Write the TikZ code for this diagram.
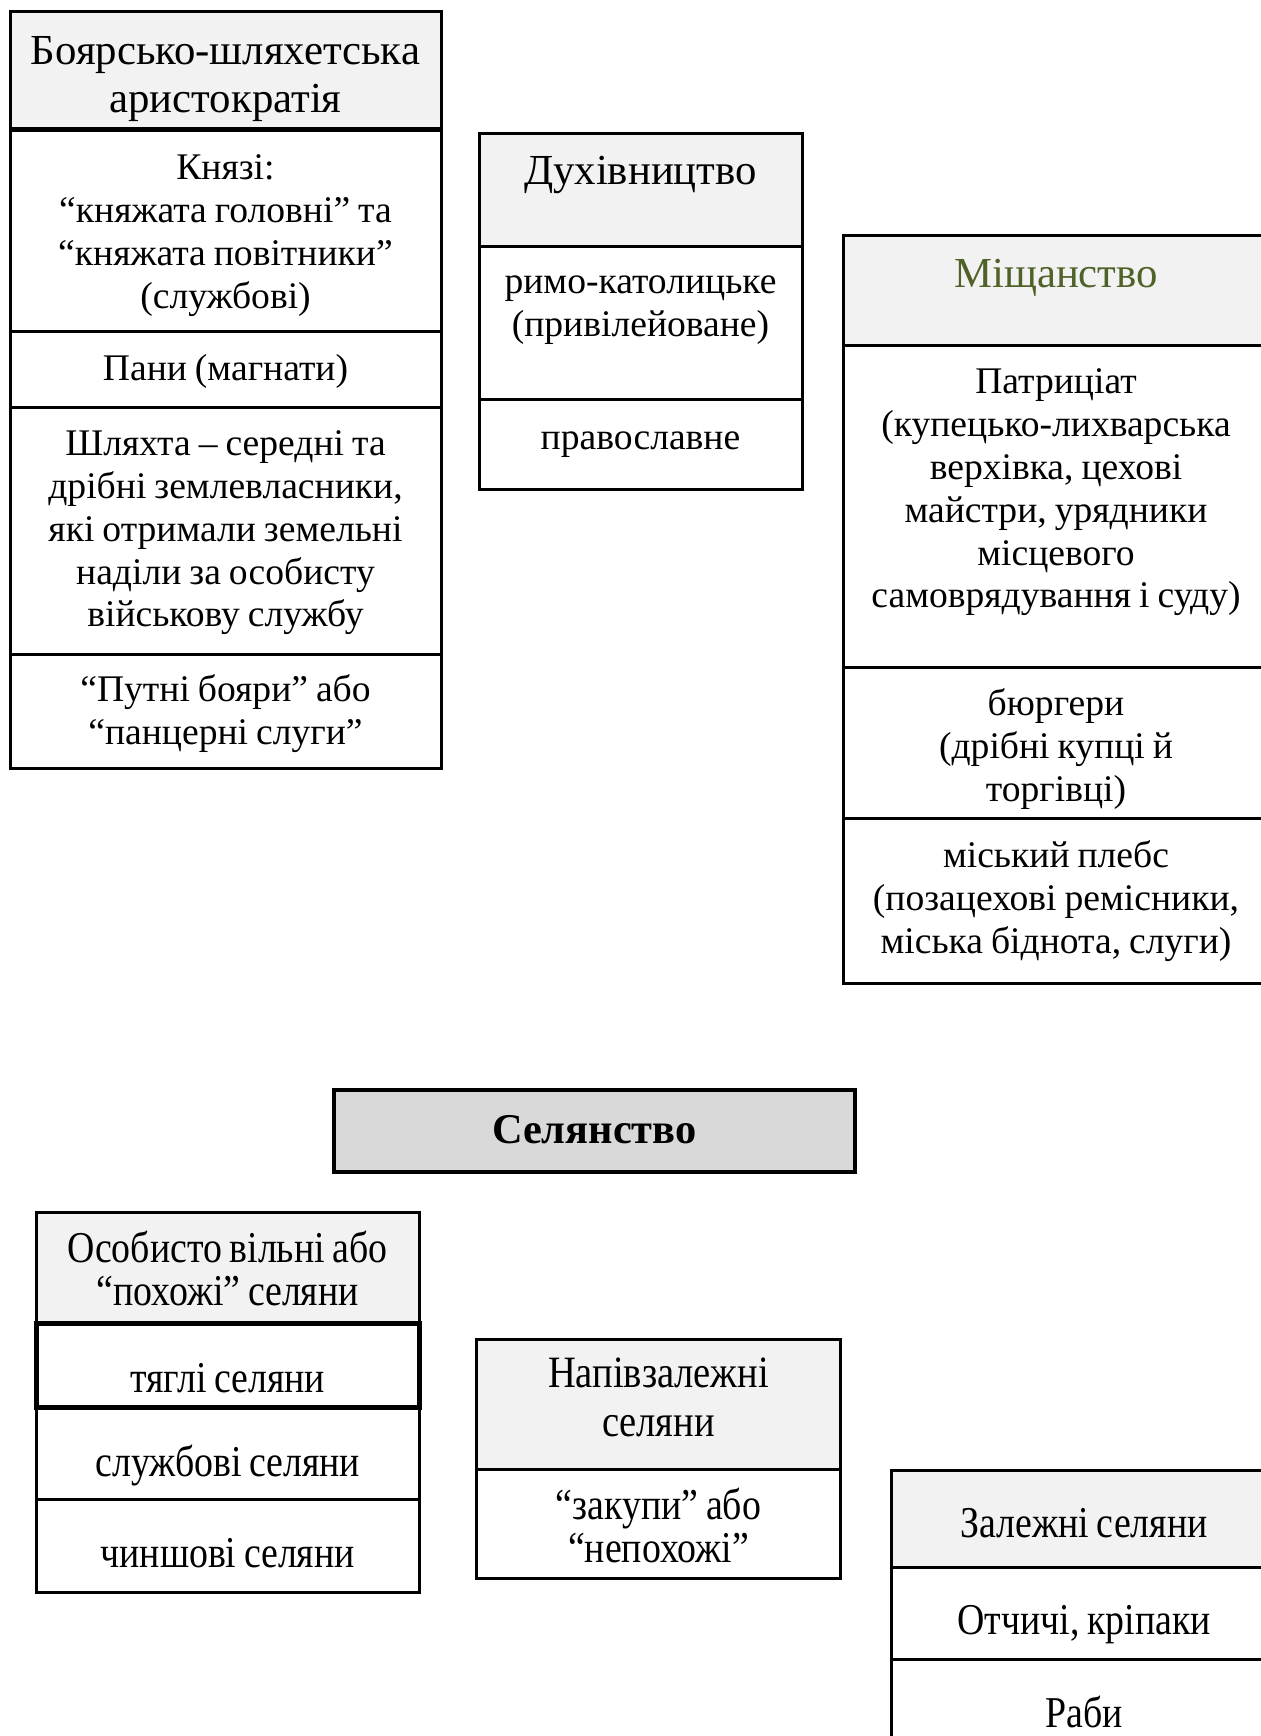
\documentclass[tikz,border=0pt]{standalone}
\usepackage{fontspec}
\setmainfont{Liberation Serif}[WordSpace=0.85]
\newfontfamily\narrowserif{Liberation Serif}[FakeStretch=0.86, WordSpace=0.8]
\usetikzlibrary{positioning}
\definecolor{hdrgray}{HTML}{F2F2F2}
\definecolor{selgray}{HTML}{D9D9D9}
\definecolor{olivetext}{HTML}{4F6228}

\begin{document}
\begin{tikzpicture}[
        cell/.style={rectangle, draw=black, line width=1.5pt, outer sep=0pt, inner sep=0pt},
        hdr/.style={cell, fill=hdrgray},
        thickline/.style={line width=2.5pt},
        txt/.style={inner sep=0pt, align=center, yshift=-2.8pt, font=\fontsize{18.8}{21.4}\selectfont,
            execute at begin node=\strut, execute at end node=\strut},
        hdrtxt/.style={txt, font=\fontsize{21.4}{23.8}\selectfont},
        lowtxt/.style={txt, font=\narrowserif\fontsize{22}{21.6}\selectfont},
        colA/.style={minimum width=215.5pt},
        colB/.style={minimum width=161.5pt},
        colC/.style={minimum width=213pt},
        colE/.style={minimum width=191.7pt},
        colF/.style={minimum width=181.9pt},
        colG/.style={minimum width=193pt}
    ]
    \useasboundingbox (0,0) rectangle (630.5pt,-868pt);

    % --- Боярсько-шляхетська аристократія ---
    \node[hdr, colA, minimum height=59.1pt, anchor=north west] (bojar) at (5pt,-5.7pt) {};
    \node[cell, colA, minimum height=100.7pt, below=0pt of bojar] (knjazi) {};
    \node[cell, colA, minimum height=38.2pt, below=0pt of knjazi] (pany) {};
    \node[cell, colA, minimum height=123.5pt, below=0pt of pany] (shljakhta) {};
    \node[cell, colA, minimum height=57pt, below=0pt of shljakhta] (putni) {};
    \draw[thickline] (bojar.south west) -- (bojar.south east);

    \node[hdrtxt, yshift=-2.9pt] (bojar-t) at (bojar) {Боярсько-шляхетська\\аристократія};
    \node[txt, yshift=-1.1pt] (knjazi-t) at (knjazi) {Князі:\\“княжата головні” та\\“княжата повітники”\\(службові)};
    \node[txt, yshift=1.4pt] (pany-t) at (pany) {Пани (магнати)};
    \node[txt, yshift=0.6pt] (shljakhta-t) at (shljakhta) {Шляхта – середні та\\дрібні землевласники,\\які отримали земельні\\наділи за особисту\\військову службу};
    \node[txt, yshift=0.4pt] (putni-t) at (putni) {“Путні бояри” або\\“панцерні слуги”};

    % --- Духівництво ---
    \node[hdr, colB, minimum height=56.9pt, anchor=north west] (dukh) at (239.5pt,-66.5pt) {};
    \node[cell, colB, minimum height=76.5pt, below=0pt of dukh] (katol) {};
    \node[cell, colB, minimum height=44.8pt, below=0pt of katol] (pravosl) {};

    \node[hdrtxt, yshift=10.3pt] (dukh-t) at (dukh) {Духівництво};
    \node[txt, yshift=8pt] (katol-t) at (katol) {римо-католицьке\\(привілейоване)};
    \node[txt, yshift=4.8pt] (pravosl-t) at (pravosl) {православне};

    % --- Міщанство ---
    \node[hdr, colC, minimum height=55.3pt, anchor=north west] (mishch) at (421.5pt,-117.5pt) {};
    \node[cell, colC, minimum height=161pt, below=0pt of mishch] (patryc) {};
    \node[cell, colC, minimum height=75.3pt, below=0pt of patryc] (burg) {};
    \node[cell, colC, minimum height=82.5pt, below=0pt of burg] (pleb) {};

    \node[hdrtxt, text=olivetext, yshift=9pt] (mishch-t) at (mishch) {Міщанство};
    \node[txt, yshift=8.7pt] (patryc-t) at (patryc) {Патриціат\\(купецько-лихварська\\верхівка, цехові\\майстри, урядники\\місцевого\\самоврядування і суду)};
    \node[txt, yshift=-1.6pt] (burg-t) at (burg) {бюргери\\(дрібні купці й\\торгівці)};
    \node[txt, yshift=1.5pt] (pleb-t) at (pleb) {міський плебс\\(позацехові ремісники,\\міська біднота, слуги)};

    % --- Селянство ---
    \node[cell, fill=selgray, line width=2.2pt, minimum width=260.5pt, minimum height=41pt, anchor=north west] (seljan) at (166.9pt,-545pt) {};
    \node[txt, font=\bfseries\fontsize{21.2}{24}\selectfont, yshift=1.5pt] (seljan-t) at (seljan) {Селянство};

    % --- Особисто вільні ---
    \node[hdr, colE, minimum height=55.2pt, anchor=north west] (vilni) at (18pt,-606.3pt) {};
    \node[cell, colE, minimum height=42.3pt, below=0pt of vilni, thickline] (tjagli) {};
    \node[cell, colE, minimum height=45.9pt, below=0pt of tjagli] (sluzh) {};
    \node[cell, colE, minimum height=46.7pt, below=0pt of sluzh] (chynsh) {};

    \node[lowtxt, yshift=-0.7pt] (vilni-t) at (vilni) {Особисто вільні або\\“похожі” селяни};
    \node[lowtxt, yshift=-6.5pt] (tjagli-t) at (tjagli) {тяглі селяни};
    \node[lowtxt, yshift=-3.9pt] (sluzh-t) at (sluzh) {службові селяни};
    \node[lowtxt, yshift=-3.5pt] (chynsh-t) at (chynsh) {чиншові селяни};

    % --- Напівзалежні ---
    \node[hdr, colF, minimum height=65pt, anchor=north west] (napiv) at (238.3pt,-669.7pt) {};
    \node[cell, colF, minimum height=54.6pt, below=0pt of napiv] (zakup) {};

    \node[lowtxt, font=\narrowserif\fontsize{22.4}{24.4}\selectfont, yshift=2.6pt] (napiv-t) at (napiv) {Напівзалежні\\селяни};
    \node[lowtxt, yshift=-1pt] (zakup-t) at (zakup) {“закупи” або\\“непохожі”};

    % --- Залежні ---
    \node[hdr, colG, minimum height=48.7pt, anchor=north west] (zalezh) at (445.6pt,-735.2pt) {};
    \node[cell, colG, minimum height=45.9pt, below=0pt of zalezh] (otchych) {};
    \node[cell, colG, minimum height=53.4pt, below=0pt of otchych] (raby) {};

    \node[lowtxt, yshift=-2.1pt] (zalezh-t) at (zalezh) {Залежні селяни};
    \node[lowtxt, yshift=-3.5pt] (otchych-t) at (otchych) {Отчичі, кріпаки};
    \node[lowtxt] (raby-t) at (raby) {Раби};
\end{tikzpicture}
\end{document}
